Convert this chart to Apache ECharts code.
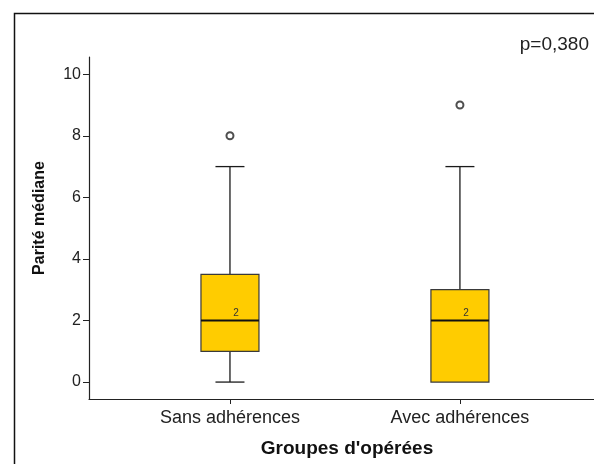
<!DOCTYPE html>
<html>
<head>
<meta charset="utf-8">
<script src="https://cdn.jsdelivr.net/npm/echarts@6/dist/echarts.min.js"></script>
<style>
  html, body { margin: 0; padding: 0; background: #fff; }
  #chart { width: 594px; height: 464px; }
</style>
</head>
<body>
<div id="chart"></div>
<script>
// values
const categories = ['Sans adhérences', 'Avec adhérences'];
const whiskerLow = [0, 0];
const q1 = [1, 0];
const medians = [2, 2];
const q3 = [3.5, 3];
const whiskerHigh = [7, 7];
const outliers = [8, 9];
const yTicks = [0, 2, 4, 6, 8, 10];
const xTicks = [1, 2];
const pText = 'p=0,380';

const FONT = 'Liberation Sans, Arial, sans-serif';
const chart = echarts.init(document.getElementById('chart'));

const boxData = categories.map((c, i) => [i + 1, whiskerLow[i], q1[i], medians[i], q3[i], whiskerHigh[i]]);
const outlierData = outliers.map((v, i) => [i + 1, v]);

function renderBox(params, api) {
  const x = api.value(0);
  const lo = api.coord([x, api.value(1)]);
  const b1 = api.coord([x, api.value(2)]);
  const md = api.coord([x, api.value(3)]);
  const b3 = api.coord([x, api.value(4)]);
  const hi = api.coord([x, api.value(5)]);
  const half = 29, cap = 14.5;
  const cx = md[0];
  const line = { stroke: '#1a1a1a', lineWidth: 1.3 };
  const children = [
    { type: 'line', shape: { x1: cx, y1: hi[1], x2: cx, y2: b3[1] }, style: line },
    { type: 'line', shape: { x1: cx - cap, y1: hi[1], x2: cx + cap, y2: hi[1] }, style: line }
  ];
  if (lo[1] - b1[1] > 0.5) {
    children.push(
      { type: 'line', shape: { x1: cx, y1: b1[1], x2: cx, y2: lo[1] }, style: line },
      { type: 'line', shape: { x1: cx - cap, y1: lo[1], x2: cx + cap, y2: lo[1] }, style: line }
    );
  }
  children.push(
    { type: 'rect', shape: { x: cx - half, y: b3[1], width: half * 2, height: b1[1] - b3[1] },
      style: { fill: '#ffcc00', stroke: '#3a3a3a', lineWidth: 1.2 } },
    { type: 'line', shape: { x1: cx - half, y1: md[1], x2: cx + half, y2: md[1] },
      style: { stroke: '#111', lineWidth: 2 } },
    { type: 'text', x: cx + 6, y: md[1] - 2,
      style: { text: String(api.value(3)), fill: '#333', font: '10px ' + FONT, align: 'center', verticalAlign: 'bottom' } }
  );
  return { type: 'group', children: children };
}

chart.setOption({
  animation: false,
  backgroundColor: '#fff',
  grid: {
    left: 89,
    right: 0,
    top: 57,
    bottom: 65,
    containLabel: false,
    outerBoundsMode: 'none'
  },
  xAxis: {
    type: 'value',
    min: 0.387,
    max: 2.583,
    splitLine: { show: false },
    axisLine: { onZero: false, lineStyle: { color: '#222', width: 1.2 } },
    axisTick: { customValues: xTicks, length: 5, lineStyle: { color: '#222' } },
    axisLabel: {
      customValues: xTicks,
      formatter: v => categories[Math.round(v) - 1],
      color: '#222',
      fontSize: 18,
      fontFamily: FONT,
      margin: 10
    }
  },
  yAxis: {
    type: 'value',
    min: -0.55,
    max: 10.56,
    splitLine: { show: false },
    axisLine: { show: true, onZero: false, lineStyle: { color: '#222', width: 1.2 } },
    axisTick: { show: true, customValues: yTicks, length: 6, lineStyle: { color: '#222' } },
    axisLabel: {
      customValues: yTicks,
      color: '#222',
      fontSize: 16,
      fontFamily: FONT,
      margin: 8
    }
  },
  graphic: [
    { type: 'rect', left: 12, top: 11, shape: { width: 620, height: 480 },
      style: { fill: 'none', stroke: '#111', lineWidth: 1.5 }, silent: true },
    { type: 'text', x: 40, y: 218, rotation: Math.PI / 2,
      style: { text: 'Parité médiane', font: 'bold 16px ' + FONT, fill: '#111', align: 'center', verticalAlign: 'middle' } },
    { type: 'text', x: 347, y: 449,
      style: { text: "Groupes d'opérées", font: 'bold 19px ' + FONT, fill: '#111', align: 'center', verticalAlign: 'middle' } },
    { type: 'text', x: 589, y: 45,
      style: { text: pText, font: '19px ' + FONT, fill: '#222', align: 'right', verticalAlign: 'middle' } }
  ],
  series: [
    {
      type: 'custom',
      renderItem: renderBox,
      encode: { x: 0, y: [1, 2, 3, 4, 5] },
      data: boxData,
      z: 2
    },
    {
      type: 'scatter',
      symbol: 'emptyCircle',
      symbolSize: 7,
      itemStyle: { color: '#222', borderColor: '#222', borderWidth: 1.5 },
      data: outlierData,
      z: 3
    }
  ]
});
</script>
</body>
</html>
